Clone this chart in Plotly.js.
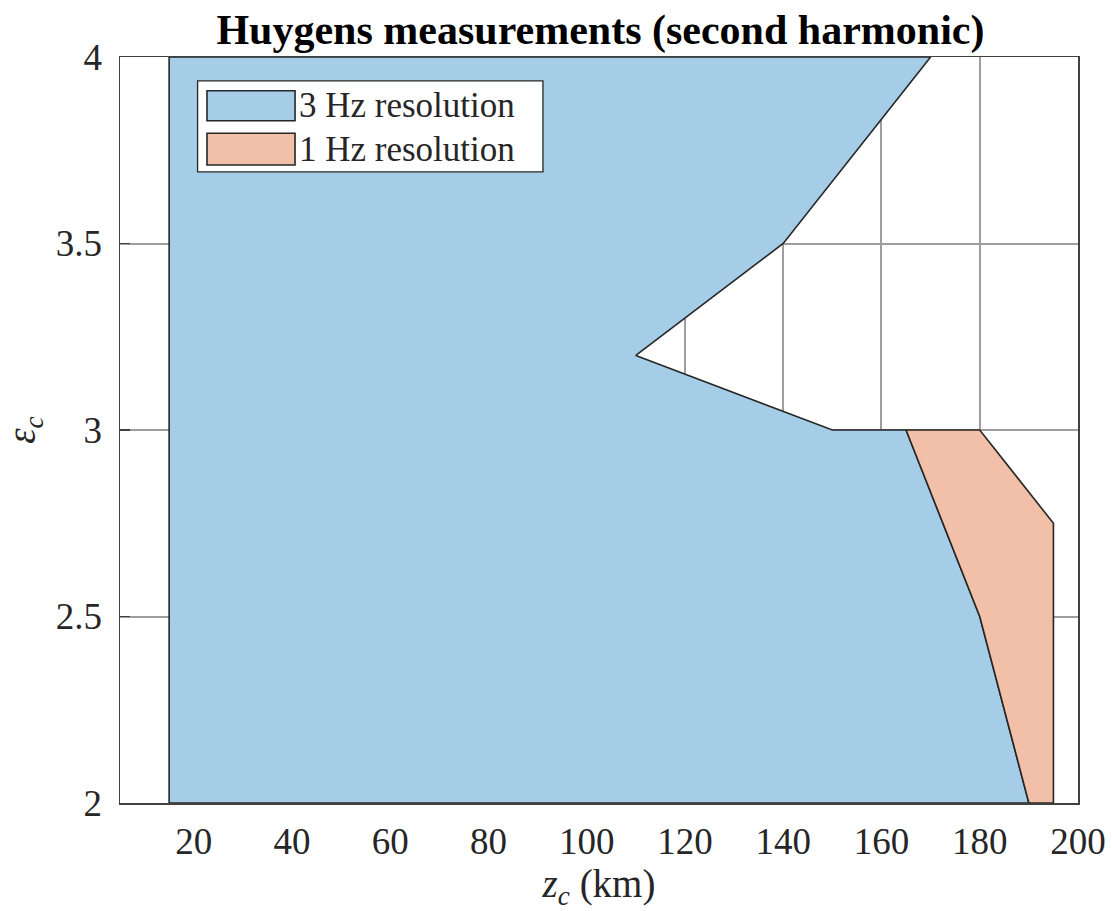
<!DOCTYPE html>
<html>
<head>
<meta charset="utf-8">
<script src="https://cdn.plot.ly/plotly-3.0.1.min.js"></script>
<style>html,body{margin:0;padding:0;background:#fff;}#chart{width:1112px;height:911px;}</style>
</head>
<body>
<div id="chart"></div>
<script>
// Region boundaries (z_c in km, epsilon_c)
const seriesNames = ["3 Hz resolution", "1 Hz resolution"];
const blueZ = [15, 15, 170, 140, 110, 150, 165, 180, 190, 15];
const blueEps = [2, 4, 4, 3.5, 3.2, 3.0, 3.0, 2.5, 2, 2];
const orangeZ = [165, 180, 195, 195, 190, 180, 165];
const orangeEps = [3.0, 3.0, 2.75, 2, 2, 2.5, 3.0];
const xTicks = [20, 40, 60, 80, 100, 120, 140, 160, 180, 200];
const yTicks = [2, 2.5, 3, 3.5, 4];
const yTickLabels = ["2", "2.5", "3", "3.5", "4"];

const blueColor = "#a6cde8";
const orangeColor = "#f2bfa9";
const edgeColor = "#262626";
const font = "Liberation Serif";

const traces = [
  {x: blueZ, y: blueEps, type: "scatter", mode: "lines", fill: "toself",
   fillcolor: blueColor, line: {color: edgeColor, width: 1.6}, name: seriesNames[0],
   hoverinfo: "skip", showlegend: false},
  {x: orangeZ, y: orangeEps, type: "scatter", mode: "lines", fill: "toself",
   fillcolor: orangeColor, line: {color: edgeColor, width: 1.6}, name: seriesNames[1],
   hoverinfo: "skip", showlegend: false}
];

// legend drawn as shapes + annotations (paper coords)
const legBox = {x0: 0.081, x1: 0.4415, y0: 0.846, y1: 0.968};
const patches = [{y0: 0.9146, y1: 0.9548, c: blueColor}, {y0: 0.8552, y1: 0.8977, c: orangeColor}];
const shapes = [
  {type: "rect", xref: "paper", yref: "paper", x0: legBox.x0, x1: legBox.x1, y0: legBox.y0, y1: legBox.y1,
   fillcolor: "#ffffff", line: {color: "#262626", width: 1.3}, layer: "above"}
];
const annotations = [];
patches.forEach((p, i) => {
  shapes.push({type: "rect", xref: "paper", yref: "paper", x0: 0.0908, x1: 0.1827, y0: p.y0, y1: p.y1,
    fillcolor: p.c, line: {color: edgeColor, width: 1.6}, layer: "above"});
  annotations.push({xref: "paper", yref: "paper", x: 0.1848, y: (p.y0 + p.y1) / 2, xanchor: "left", yanchor: "middle",
    text: seriesNames[i], showarrow: false, font: {family: font, size: 35, color: "#262626"}});
});

const layout = {
  width: 1112, height: 911,
  margin: {l: 120, r: 34, t: 57, b: 108},
  paper_bgcolor: "#ffffff", plot_bgcolor: "#ffffff",
  title: {text: "<b>Huygens measurements (second harmonic)</b>", x: 0.54, xanchor: "center",
    yref: "container", y: 0.968, yanchor: "middle", font: {family: font, size: 42, color: "#000"}},
  xaxis: {range: [5, 200], tickvals: xTicks, ticktext: xTicks.map(String),
    showgrid: true, gridcolor: "#9e9e9e", gridwidth: 2, zeroline: false,
    showline: true, mirror: true, linecolor: "#404040", linewidth: 1.5,
    ticks: "", ticklabelstandoff: 5, tickfont: {family: font, size: 37, color: "#262626"},
    title: {text: "<i>z<sub>c</sub></i> (km)", font: {family: font, size: 39, color: "#262626"}, standoff: 10}},
  yaxis: {range: [2, 4], tickvals: yTicks, ticktext: yTickLabels,
    showgrid: true, gridcolor: "#9e9e9e", gridwidth: 2, zeroline: false,
    showline: true, mirror: true, linecolor: "#404040", linewidth: 1.5,
    ticks: "inside", ticklen: 10, tickwidth: 1.5, tickcolor: "#404040",
    ticklabelstandoff: 9, tickfont: {family: font, size: 37, color: "#262626"},
    title: {text: "<i>ε<sub>c</sub></i>", font: {family: font, size: 39, color: "#262626"}, standoff: 12}},
  shapes: shapes,
  annotations: annotations,
  showlegend: false
};

Plotly.newPlot("chart", traces, layout, {displayModeBar: false, staticPlot: true});
</script>
</body>
</html>
